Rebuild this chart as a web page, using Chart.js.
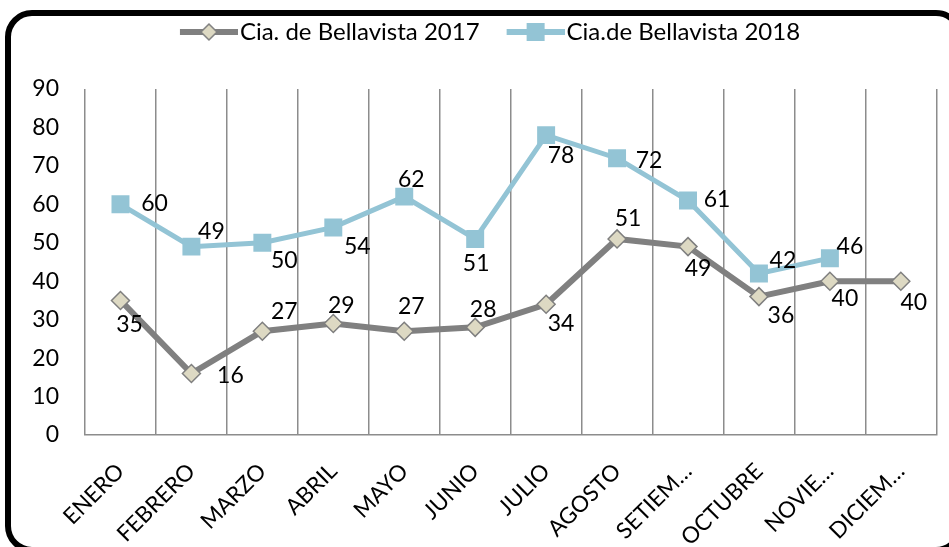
<!DOCTYPE html>
<html><head><meta charset="utf-8">
<script src="https://cdn.jsdelivr.net/npm/chart.js@4.4.1/dist/chart.umd.min.js"></script>
<style>html,body{margin:0;padding:0;background:#fff;} canvas{display:block;}</style>
</head><body>
<canvas id="c" width="949" height="547"></canvas>
<script>
const categories = ['ENERO','FEBRERO','MARZO','ABRIL','MAYO','JUNIO','JULIO','AGOSTO','SETIEM…','OCTUBRE','NOVIE…','DICIEM…'];
const series2017 = [35,16,27,29,27,28,34,51,49,36,40,40];
const series2018 = [60,49,50,54,62,51,78,72,61,42,46,null];
const seriesNames = ['Cia. de Bellavista 2017','Cia.de Bellavista 2018'];
const yMin = 0, yMax = 90, yStep = 10;

// label placement (style): [dx, dy] from each point
const labelOffsets2017 = [[9,24],[39,2],[22,-20],[8,-18],[7,-25],[8,-18],[15,19],[11,-20],[10,22],[22,19],[15,17],[13,21]];
const labelOffsets2018 = [[34,-1],[20,-15],[22,18],[24,19],[7,-17],[1,25],[15,20],[32,2],[29,-1],[24,-13],[20,-12],[0,0]];

const FONT = 'Lato, Carlito, "Liberation Sans", sans-serif';
const GRAY_LINE = '#808080';
const BLUE_LINE = '#93c4d5';
const DIAMOND_FILL = '#ddd9c3';
const DIAMOND_BORDER = '#7f7f7f';
const GRID = '#8c8c8c';

function legendImage(kind){
  const c = document.createElement('canvas');
  c.width = 85; c.height = 24;
  const g = c.getContext('2d');
  const x0 = 27, x1 = 85, cy = 12, cx = (x0 + x1) / 2;
  g.lineCap = 'butt';
  if (kind === 0) {
    g.strokeStyle = GRAY_LINE; g.lineWidth = 6;
    g.beginPath(); g.moveTo(x0, cy); g.lineTo(x1, cy); g.stroke();
    g.fillStyle = DIAMOND_FILL; g.strokeStyle = DIAMOND_BORDER; g.lineWidth = 1.5;
    const r = 8;
    g.beginPath(); g.moveTo(cx, cy - r); g.lineTo(cx + r, cy); g.lineTo(cx, cy + r); g.lineTo(cx - r, cy); g.closePath();
    g.fill(); g.stroke();
  } else {
    g.strokeStyle = BLUE_LINE; g.lineWidth = 6;
    g.beginPath(); g.moveTo(x0, cy); g.lineTo(x1, cy); g.stroke();
    g.fillStyle = BLUE_LINE;
    g.fillRect(cx - 9, cy - 9, 18, 18);
  }
  return c;
}
const legendImgs = [legendImage(0), legendImage(1)];

const bgBorder = {
  id: 'bgBorder',
  beforeDraw(chart) {
    const ctx = chart.ctx;
    ctx.save();
    ctx.fillStyle = '#fff';
    ctx.fillRect(0, 0, chart.width, chart.height);
    ctx.strokeStyle = '#000';
    ctx.lineWidth = 6;
    ctx.beginPath();
    ctx.roundRect(8, 13, 952, 537, 24);
    ctx.stroke();
    ctx.restore();
  }
};

const legendGap = {
  id: 'legendGap',
  beforeLayout(chart) {
    const lg = chart.legend;
    if (lg && !lg._gapPatched) {
      const f = lg.fit;
      lg.fit = function(){ f.call(this); this.height = 79; };
      lg._gapPatched = true;
    }
  },
  afterLayout(chart) {
    const lg = chart.legend;
    if (lg) lg.left = lg.left + 26;
  }
};

const offsetsByDataset = [labelOffsets2017, labelOffsets2018];
const dataLabels = {
  id: 'dataLabels',
  afterDatasetsDraw(chart) {
    const ctx = chart.ctx;
    ctx.save();
    ctx.font = '23px ' + FONT;
    ctx.fillStyle = '#000';
    ctx.textAlign = 'center';
    ctx.textBaseline = 'middle';
    chart.data.datasets.forEach((ds, di) => {
      const meta = chart.getDatasetMeta(di);
      meta.data.forEach((el, i) => {
        const v = ds.data[i];
        if (v === null || v === undefined) return;
        const off = offsetsByDataset[di][i];
        ctx.fillText(String(v), el.x + off[0], el.y + off[1]);
      });
    });
    ctx.restore();
  }
};

new Chart(document.getElementById('c'), {
  type: 'line',
  data: {
    labels: categories,
    datasets: [
      {
        label: seriesNames[0], data: series2017,
        borderColor: GRAY_LINE, borderWidth: 6, backgroundColor: DIAMOND_FILL,
        pointStyle: 'rectRot', pointRadius: 9, pointBackgroundColor: DIAMOND_FILL,
        pointBorderColor: DIAMOND_BORDER, pointBorderWidth: 1.5, tension: 0
      },
      {
        label: seriesNames[1], data: series2018,
        borderColor: BLUE_LINE, borderWidth: 5, backgroundColor: BLUE_LINE,
        pointStyle: 'rect', pointRadius: 12.7, pointBackgroundColor: BLUE_LINE,
        pointBorderColor: BLUE_LINE, pointBorderWidth: 0, tension: 0, spanGaps: false
      }
    ]
  },
  options: {
    responsive: false, animation: false, devicePixelRatio: 1,
    layout: { padding: { top: 10, right: 12, left: 0, bottom: 0 } },
    plugins: {
      legend: {
        labels: {
          usePointStyle: true, pointStyleWidth: 65, padding: 10, color: '#000',
          font: { family: FONT, size: 24 },
          generateLabels(chart) {
            const items = Chart.defaults.plugins.legend.labels.generateLabels(chart);
            items.forEach((it, i) => { it.pointStyle = legendImgs[i]; it.rotation = 0; });
            return items;
          }
        }
      },
      tooltip: { enabled: false }
    },
    scales: {
      x: {
        offset: true,
        grid: { offset: true, color: GRID, lineWidth: 1.5, drawTicks: false },
        border: { color: GRID, width: 1.5 },
        ticks: { font: { family: FONT, size: 22.5 }, color: '#000', maxRotation: 45, minRotation: 45, padding: 23, autoSkip: false },
        afterFit(s) { s.height = 112; }
      },
      y: {
        min: yMin, max: yMax,
        ticks: { stepSize: yStep, font: { family: FONT, size: 23 }, color: '#000', padding: 26 },
        grid: { display: false, drawTicks: false },
        border: { display: false },
        afterFit(s) { s.width = 85; }
      }
    }
  },
  plugins: [bgBorder, legendGap, dataLabels]
});
</script>
</body></html>
